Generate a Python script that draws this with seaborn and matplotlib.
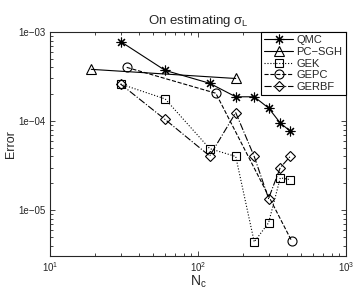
import numpy as np
import pandas as pd
import matplotlib
matplotlib.use('Agg')
import matplotlib.pyplot as plt
import seaborn as sns

# values
qmc_x = [30, 60, 120, 180, 240, 300, 360, 420]
qmc_y = [7.8e-4, 3.7e-4, 2.65e-4, 1.87e-4, 1.87e-4, 1.4e-4, 9.5e-5, 7.7e-5]
sgh_x = [19, 180]
sgh_y = [3.8e-4, 3.0e-4]
gek_x = [30, 60, 120, 180, 240, 300, 360, 420]
gek_y = [2.6e-4, 1.77e-4, 4.9e-5, 4.0e-5, 4.4e-6, 7.2e-6, 2.3e-5, 2.2e-5]
gepc_x = [33, 132, 430]
gepc_y = [4.0e-4, 2.05e-4, 4.5e-6]
gerbf_x = [30, 60, 120, 180, 240, 300, 360, 420]
gerbf_y = [2.6e-4, 1.04e-4, 4.05e-5, 1.24e-4, 4.0e-5, 1.35e-5, 3.0e-5, 4.0e-5]

sns.set_style('ticks')
plt.rcParams['font.family'] = ['Liberation Sans', 'DejaVu Sans']
plt.rcParams['mathtext.default'] = 'regular'
plt.rcParams['xtick.direction'] = 'in'
plt.rcParams['ytick.direction'] = 'in'

fig = plt.figure(figsize=(3.57, 2.90), dpi=100)
ax = fig.add_axes([0.140, 0.117, 0.829, 0.773])

series = [
    ('QMC', qmc_x, qmc_y, (8, 2, 0), '-', 7),
    ('PC\u2212SGH', sgh_x, sgh_y, '^', '-', 6.5),
    ('GEK', gek_x, gek_y, 's', ':', 5.5),
    ('GEPC', gepc_x, gepc_y, 'o', '--', 6.5),
    ('GERBF', gerbf_x, gerbf_y, 'D', '-.', 5.5),
]
for name, xs, ys, mk, ls, ms in series:
    sns.lineplot(x=xs, y=ys, ax=ax, color='k', marker=mk, linestyle=ls,
                 markersize=ms, markerfacecolor='none', markeredgecolor='k',
                 markeredgewidth=0.8, linewidth=0.8, sort=False, label=name)

ax.set_xscale('log')
ax.set_yscale('log')
ax.set_xlim(10, 1000)
ax.set_ylim(3.05e-6, 1e-3)
ax.set_yticks([1e-5, 1e-4, 1e-3])
ax.set_yticklabels(['1e\u221205', '1e\u221204', '1e\u221203'])
ax.tick_params(which='both', top=True, right=True, labelsize=7, width=0.6)
ax.tick_params(which='major', length=3.5, pad=3)
ax.tick_params(which='minor', length=2)
for s in ax.spines.values():
    s.set_linewidth(0.8)

ax.set_title(r'On estimating $\sigma_L$', fontsize=9.5, pad=6)
ax.set_xlabel(r'$N_c$', fontsize=10, labelpad=0)
ax.set_ylabel('Error', fontsize=9)
ax.yaxis.set_label_coords(-0.112, 0.5)

leg = ax.legend(loc='upper right', fontsize=8, fancybox=False, edgecolor='k',
                framealpha=1, borderaxespad=0, handlelength=2.6,
                labelspacing=0.15, borderpad=0.3, handletextpad=0.3)
leg.get_frame().set_linewidth(0.8)

fig.savefig('out.png', dpi=100)
